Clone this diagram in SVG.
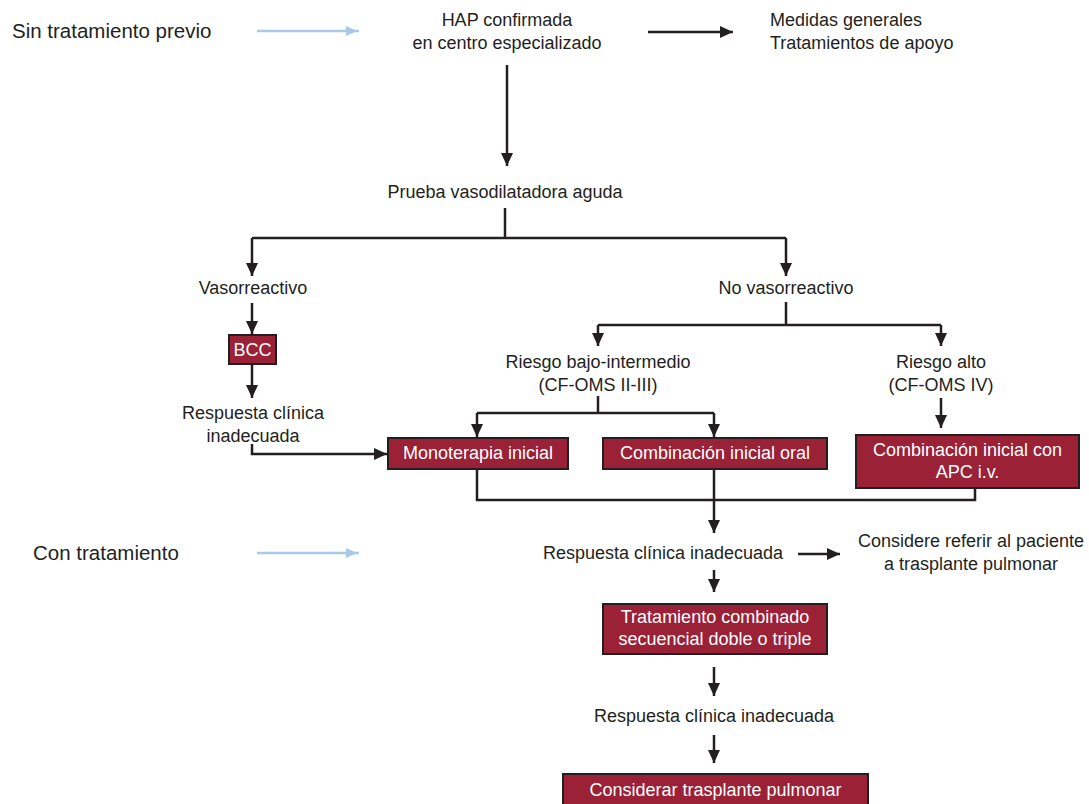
<svg xmlns="http://www.w3.org/2000/svg" width="1089" height="804" viewBox="0 0 1089 804">
<style>
text{font-family:"Liberation Sans",Arial,sans-serif;font-size:18px;fill:#231f20}
.big{font-size:20.5px}
.c{text-anchor:middle}
.w{fill:#ffffff}
.box{fill:#9b2137;stroke:#231f20;stroke-width:2}
.ln{fill:none;stroke:#231f20;stroke-width:2.5}
.ar{fill:none;stroke:#231f20;stroke-width:2.5;marker-end:url(#ah)}
.bl{fill:none;stroke:#a9c9e8;stroke-width:2.5;marker-end:url(#bh)}
</style>
<defs>
<marker id="ah" markerUnits="userSpaceOnUse" markerWidth="14" markerHeight="14" viewBox="0 0 14 14" refX="13" refY="7" orient="auto">
<path d="M0,1 L13,7 L0,13 Z" fill="#231f20"/>
</marker>
<marker id="bh" markerUnits="userSpaceOnUse" markerWidth="14" markerHeight="14" viewBox="0 0 14 14" refX="13" refY="7" orient="auto">
<path d="M0,2 L11,7 L0,12 Z" fill="#a9c9e8"/>
</marker>
</defs>

<g id="labels-left">
<text class="big" x="12" y="38">Sin tratamiento previo</text>
<text class="big" x="33" y="560">Con tratamiento</text>
</g>

<g id="connectors">
<line class="bl" x1="257" y1="31" x2="359" y2="31"/>
<line class="bl" x1="257" y1="553" x2="359" y2="553"/>
<line class="ar" x1="648" y1="32" x2="733" y2="32"/>
<line class="ar" x1="507" y1="65" x2="507" y2="166"/>
<line class="ln" x1="505" y1="208" x2="505" y2="238"/>
<polyline class="ln" points="252,238 786,238"/>
<line class="ar" x1="252" y1="238" x2="252" y2="276"/>
<line class="ar" x1="786" y1="238" x2="786" y2="276"/>
<line class="ar" x1="252" y1="303" x2="252" y2="334"/>
<line class="ar" x1="252" y1="364" x2="252" y2="398"/>
<polyline class="ar" points="252,444 252,454 387,454"/>
<line class="ln" x1="786" y1="302" x2="786" y2="325"/>
<polyline class="ln" points="598,325 941,325"/>
<line class="ar" x1="598" y1="325" x2="598" y2="346"/>
<line class="ar" x1="941" y1="325" x2="941" y2="346"/>
<line class="ln" x1="598" y1="396" x2="598" y2="413"/>
<polyline class="ln" points="477,413 714,413"/>
<line class="ar" x1="477" y1="413" x2="477" y2="437"/>
<line class="ar" x1="714" y1="413" x2="714" y2="437"/>
<line class="ar" x1="941" y1="398" x2="941" y2="428"/>
<polyline class="ln" points="477,469 477,500 975,500 975,488"/>
<line class="ln" x1="714" y1="469" x2="714" y2="500"/>
<line class="ar" x1="714" y1="500" x2="714" y2="533"/>
<line class="ar" x1="798" y1="554" x2="840" y2="554"/>
<line class="ar" x1="714" y1="570" x2="714" y2="592"/>
<line class="ar" x1="714" y1="667" x2="714" y2="696"/>
<line class="ar" x1="714" y1="735" x2="714" y2="763"/>
</g>

<g id="hap">
<text class="c" x="507" y="26">HAP confirmada</text>
<text class="c" x="507" y="49">en centro especializado</text>
</g>
<g id="medidas">
<text x="770" y="26">Medidas generales</text>
<text x="770" y="49">Tratamientos de apoyo</text>
</g>
<g id="prueba">
<text class="c" x="505" y="198">Prueba vasodilatadora aguda</text>
</g>
<g id="vasorreactivo">
<text class="c" x="253" y="294">Vasorreactivo</text>
</g>
<g id="novaso">
<text class="c" x="786" y="294">No vasorreactivo</text>
</g>
<g id="bcc">
<rect class="box" x="229" y="335" width="47" height="29"/>
<text class="c w" x="252.5" y="356">BCC</text>
</g>
<g id="resp1">
<text class="c" x="253" y="419">Respuesta clínica</text>
<text class="c" x="253" y="442">inadecuada</text>
</g>
<g id="riesgo-bajo">
<text class="c" x="598" y="368">Riesgo bajo-intermedio</text>
<text class="c" x="598" y="391">(CF-OMS II-III)</text>
</g>
<g id="riesgo-alto">
<text class="c" x="941" y="368">Riesgo alto</text>
<text class="c" x="941" y="391">(CF-OMS IV)</text>
</g>
<g id="monoterapia">
<rect class="box" x="388" y="438" width="180" height="31"/>
<text class="c w" x="478" y="459">Monoterapia inicial</text>
</g>
<g id="comb-oral">
<rect class="box" x="603" y="438" width="224" height="31"/>
<text class="c w" x="715" y="459">Combinación inicial oral</text>
</g>
<g id="comb-apc">
<rect class="box" x="856" y="435" width="223" height="53"/>
<text class="c w" x="967.5" y="456">Combinación inicial con</text>
<text class="c w" x="967.5" y="478">APC i.v.</text>
</g>
<g id="resp2">
<text class="c" x="663" y="559">Respuesta clínica inadecuada</text>
</g>
<g id="considere">
<text class="c" x="971" y="547">Considere referir al paciente</text>
<text class="c" x="971" y="570">a trasplante pulmonar</text>
</g>
<g id="tratamiento">
<rect class="box" x="603" y="604" width="224" height="50"/>
<text class="c w" x="715" y="623">Tratamiento combinado</text>
<text class="c w" x="715" y="645">secuencial doble o triple</text>
</g>
<g id="resp3">
<text class="c" x="714" y="722">Respuesta clínica inadecuada</text>
</g>
<g id="trasplante">
<rect class="box" x="563" y="774" width="305" height="40"/>
<text class="c w" x="715.5" y="796">Considerar trasplante pulmonar</text>
</g>
</svg>
